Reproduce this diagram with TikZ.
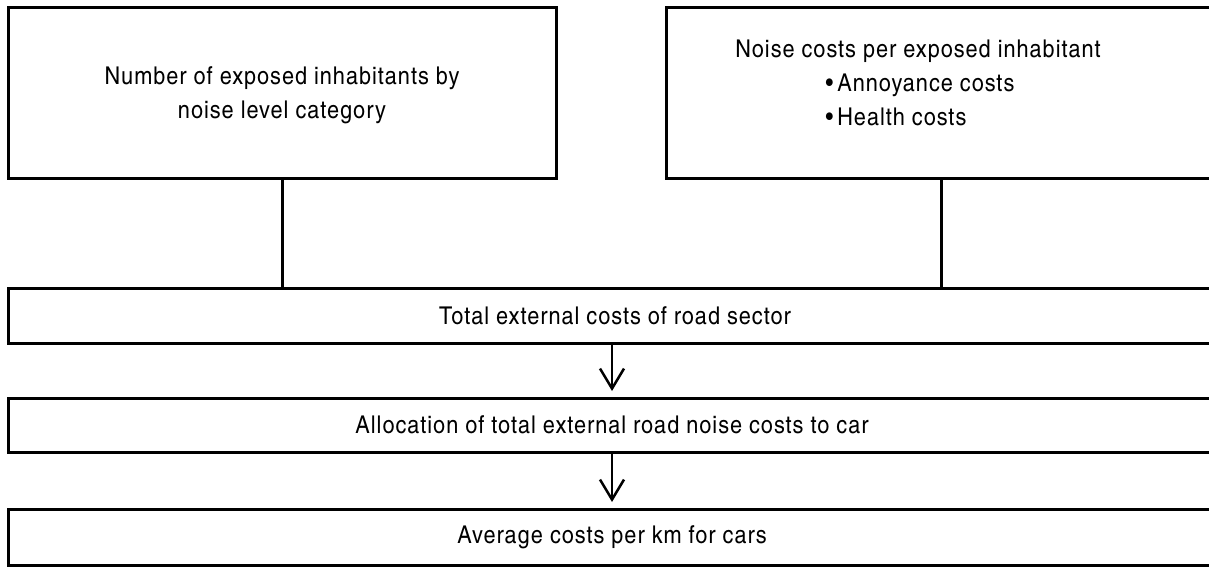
\documentclass[tikz,border=0pt]{standalone}
\usepackage{fontspec}
\setmainfont{texgyreheroscn-regular.otf}[FakeStretch=1.08, LetterSpace=4]
\usetikzlibrary{arrows.meta}
\begin{document}
\begin{tikzpicture}[x=1pt,y=-1pt,
  box/.style={draw, line width=3pt, inner sep=0pt, outer sep=0pt},
  conn/.style={line width=3pt},
  arr/.style={line width=2.5pt, -{Straight Barb[length=20pt,width=24pt]}, shorten >=7pt},
  lbl/.style={font=\fontsize{24.5}{34}\selectfont, align=center, inner sep=0pt}]
\useasboundingbox (0,0) rectangle (1209,567);
\clip (0,0) rectangle (1209,567);
% boxes
\node[box, minimum width=548pt, minimum height=170pt] (b1) at (282,93) {};
\node[box, minimum width=551pt, minimum height=170pt] (b2) at (941.5,93) {};
\node[box, minimum width=1209pt, minimum height=55pt] (b3) at (612.5,315.5) {};
\node[box, minimum width=1209pt, minimum height=54pt] (b4) at (612.5,425) {};
\node[box, minimum width=1209pt, minimum height=56pt] (b5) at (612.5,537) {};
% texts
\node[lbl] (t1) at (282,95) {Number of exposed inhabitants by\\noise level category};
\node[lbl, anchor=north] (t2) at (918,40) {Noise costs per exposed inhabitant\\
  \begin{tabular}[t]{@{}l@{}}\hspace{4pt}\textbullet\,Annoyance costs\\ \hspace{4pt}\textbullet\,Health costs\end{tabular}};
\node[lbl] (t3) at (615,316) {Total external costs of road sector};
\node[lbl] (t4) at (612,425) {Allocation of total external road noise costs to car};
\node[lbl] (t5) at (612,537) {Average costs per km for cars};
% connectors
\draw[conn] (b1.south) -- (b1.south |- b3.north);
\draw[conn] (b2.south) -- (b2.south |- b3.north);
\draw[arr] (b3.south -| t4) -- (b4.north -| t4);
\draw[arr] (b4.south -| t4) -- (b5.north -| t4);
\end{tikzpicture}
\end{document}
